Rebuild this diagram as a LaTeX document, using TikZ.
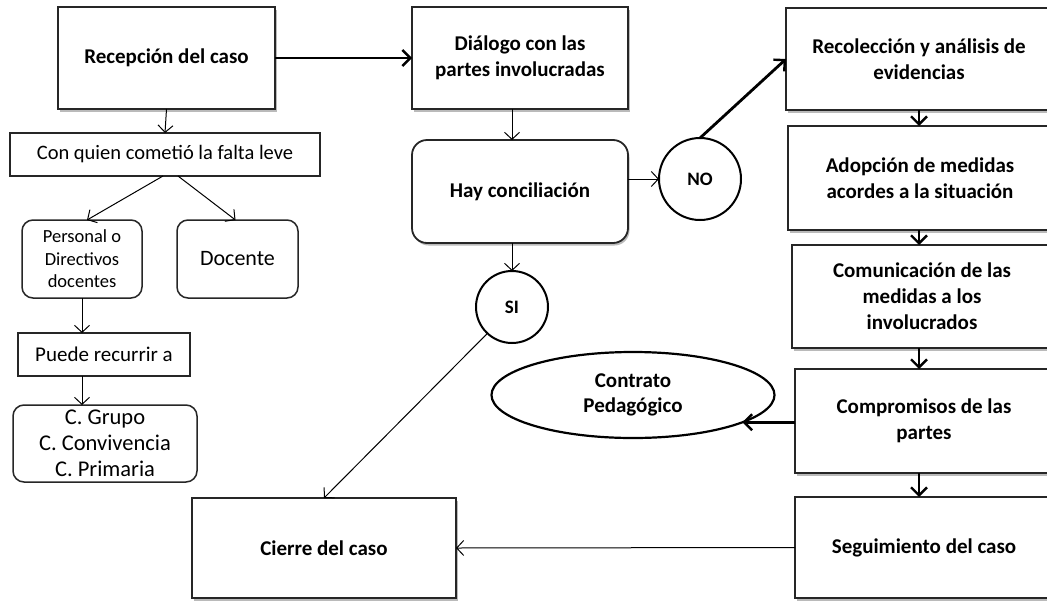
\documentclass[tikz,border=0pt]{standalone}
\usepackage{fontspec}
\setmainfont{Carlito}
\usetikzlibrary{arrows.meta,shapes.geometric,shadows}
\begin{document}
\begin{tikzpicture}[x=1pt,y=-1pt,
  every node/.style={inner sep=0pt, outer sep=0pt, align=center, text=black},
  bx/.style={rectangle, draw=black!85, fill=white, line width=1.8pt,
    font=\bfseries\fontsize{21}{26}\selectfont,
    drop shadow={shadow xshift=1.5pt,shadow yshift=-2.5pt,fill=black!45,opacity=.6}},
  lbx/.style={rectangle, draw=black!85, fill=white, line width=1.5pt,
    font=\fontsize{20.5}{25}\selectfont},
  rbx/.style={lbx, rounded corners=11pt},
  circ/.style={circle, draw=black, fill=white, line width=2pt,
    font=\bfseries\fontsize{19}{22}\selectfont},
  thinarrow/.style={-{Straight Barb[length=7pt,width=15pt,line width=1pt]}, line width=1pt, draw=black},
  thickarrow/.style={-{Straight Barb[length=8pt,width=16pt,line width=2.4pt]}, line width=2.8pt, draw=black},
]
\useasboundingbox (0,0) rectangle (1047,600);
\clip (0,0) rectangle (1047,600);
\fill[white] (0,0) rectangle (1047,600);

% main column
\node[bx, minimum width=217, minimum height=102] (rec) at (166.5,58) {Recepción del caso};
\node[bx, minimum width=216, minimum height=102] (dia) at (520,58) {Diálogo con las\\partes involucradas};
\node[bx, rounded corners=15pt, minimum width=216, minimum height=103] (hay) at (520,191.5) {Hay conciliación};
\node[circ, minimum size=82] (no) at (700,179) {NO};
\node[circ, minimum size=72] (si) at (512,307) {SI};
\node[bx, minimum width=264, minimum height=100] (cie) at (324,548) {Cierre del caso};

% right column
\node[bx, minimum width=266, minimum height=102] (col) at (919,59) {Recolección y análisis de\\evidencias};
\node[bx, minimum width=264, minimum height=104] (ado) at (920,178) {Adopción de medidas\\acordes a la situación};
\node[bx, minimum width=260, minimum height=103] (com) at (922,296.5) {Comunicación de las\\medidas a los\\involucrados};
\node[bx, minimum width=258, minimum height=104] (comp) at (924,421) {Compromisos de las\\partes};
\node[bx, minimum width=258, minimum height=101] (seg) at (924,547.5) {Seguimiento del caso};
\node[ellipse, draw=black, fill=white, line width=2.2pt, minimum width=283, minimum height=86,
  font=\bfseries\fontsize{21}{25}\selectfont] (con) at (633,395) {Contrato\\Pedagógico};

% left column
\node[lbx, minimum width=310, minimum height=43] (quien) at (165,154.5) {Con quien cometió la falta leve};
\node[rbx, minimum width=120, minimum height=78, font=\fontsize{18.5}{22.5}\selectfont] (per) at (82,259) {Personal o\\Directivos\\docentes};
\node[rbx, minimum width=121, minimum height=78, font=\fontsize{22}{26}\selectfont] (doc) at (237.5,259) {Docente};
\node[lbx, minimum width=172, minimum height=43, font=\fontsize{21}{25}\selectfont] (pue) at (104,354.5) {Puede recurrir a};
\node[rbx, minimum width=184, minimum height=77, font=\fontsize{22.5}{26}\selectfont] (cg) at (105,443.5) {C. Grupo\\C. Convivencia\\C. Primaria};

% connectors
\draw[thickarrow] (rec.east) -- (dia.west);
\draw[thinarrow] (dia.south -| si.north) -- (hay.north -| si.north);
\draw[thinarrow] (hay.east |- no.west) -- (no.west);
\draw[thickarrow] (no.north) -- (col.west);
\draw[thinarrow] (hay.south -| si.north) -- (si.north);
\draw[thinarrow] (si.227) -- (cie.north);
\draw[thickarrow] (col.south -| 919,0) -- (ado.north -| 919,0);
\draw[thickarrow] (ado.south -| 919,0) -- (com.north -| 919,0);
\draw[thickarrow] (com.south -| 919,0) -- (comp.north -| 919,0);
\draw[thickarrow] (comp.south -| 919,0) -- (seg.north -| 919,0);
\draw[thickarrow] (comp.west |- con.-14) -- (con.-14);
\draw[thinarrow] (seg.west) -- (cie.east);

\draw[thinarrow] (rec.south) -- (quien.north);
\draw[thinarrow] ([xshift=-2pt]quien.south) -- ([xshift=5pt]per.north);
\draw[thinarrow] ([xshift=13pt]quien.south) -- ([xshift=-2pt]doc.north);
\draw[thinarrow] (per.south) -- (pue.north -| per.south);
\draw[thinarrow] (pue.south -| per.south) -- (cg.north -| per.south);
\end{tikzpicture}
\end{document}
